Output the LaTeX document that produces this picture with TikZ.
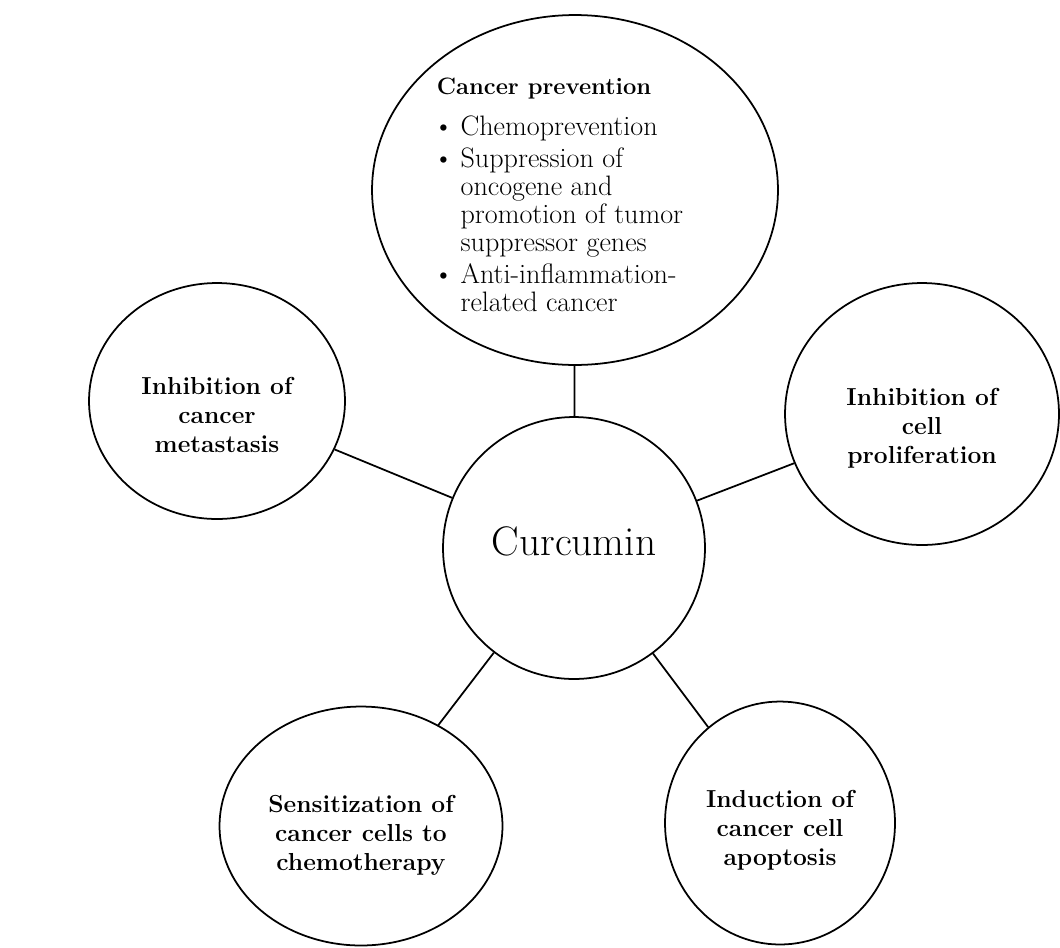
\documentclass[tikz,border=0pt]{standalone}
\usetikzlibrary{shapes.geometric}

\begin{document}
\begin{tikzpicture}[
                x = 0.02cm, y = -0.02cm,
every node/.style = {ellipse, draw, line width=1pt, inner sep=0pt, align=center,
                     font=\fontsize{14}{16.5}\selectfont\bfseries},
      bubble/.style = {minimum width=#1},
         lnk/.style = {line width=1pt}
                        ]
\useasboundingbox (0,0) rectangle (1060,947);
%
\node (Curcumin) [circle, minimum size=5.24cm,
                  font=\fontsize{23.5}{25}\selectfont] at (574,548)
    {\rule[-8pt]{0pt}{8pt}Curcumin};
\node (Prevention) [bubble=8.12cm, minimum height=7.0cm, align=left, inner sep=-20pt,
                    font=\fontsize{16}{16}\selectfont] at (575,190)
    {\rule{0pt}{20pt}\textbf{\fontsize{13.5}{16}\selectfont Cancer prevention}\\[8.5pt]
     \begin{tabular}{@{\hspace{-2pt}}l@{\hspace{4pt}}l@{}}
     \textbullet & Chemoprevention\\[2pt]
     \textbullet & Suppression of\\
                 & oncogene and\\
                 & promotion of tumor\hspace*{0.6cm}\\
                 & suppressor genes\\[2pt]
     \textbullet & Anti-inflammation-\\
                 & related cancer
     \end{tabular}};
\node (Metastasis) [bubble=5.12cm, minimum height=4.72cm] at (217,401)
    {\rule{0pt}{26pt}Inhibition of\\cancer\\metastasis};
\node (Proliferation) [bubble=5.48cm, minimum height=5.24cm] at (922,414)
    {\rule{0pt}{26pt}Inhibition of\\cell\\proliferation};
\node (Sensitization) [bubble=5.66cm, minimum height=4.78cm] at (361,826)
    {\rule{0pt}{20pt}Sensitization of\\cancer cells to\\chemotherapy};
\node (Apoptosis) [bubble=4.6cm, minimum height=4.86cm] at (780,823)
    {\rule{0pt}{18pt}Induction of\\cancer cell\\apoptosis};
% links
\draw[lnk] (Prevention) -- (Curcumin);
\draw[lnk] (Metastasis) -- (Curcumin);
\draw[lnk] (Proliferation) -- (Curcumin);
\draw[lnk] (Sensitization) -- (Curcumin);
\draw[lnk] (Apoptosis) -- (Curcumin);
\end{tikzpicture}
\end{document}
